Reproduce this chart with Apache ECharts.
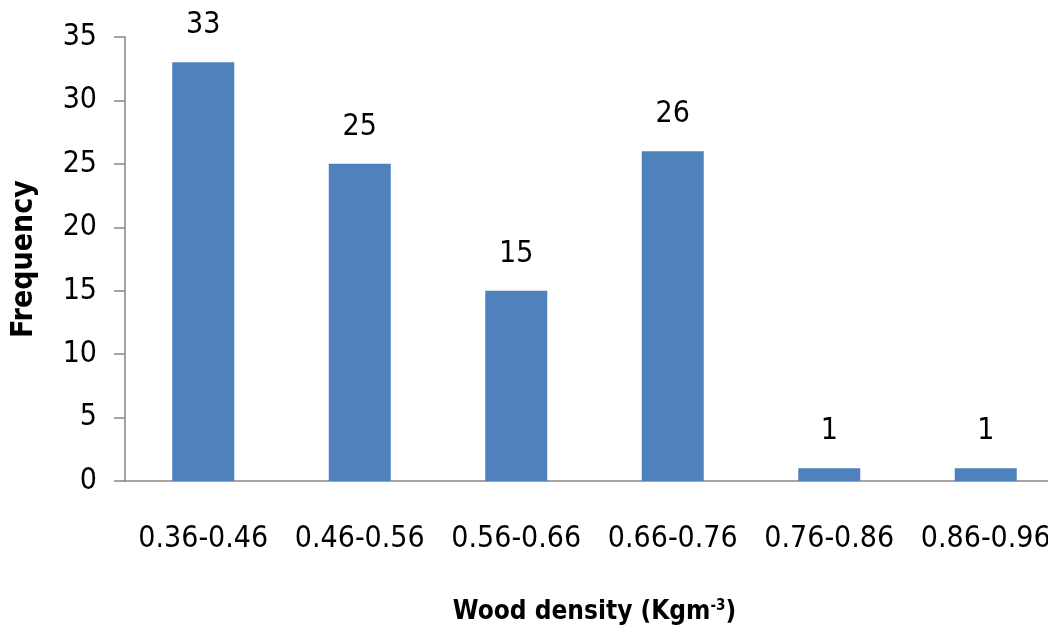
<!DOCTYPE html>
<html>
<head>
<meta charset="utf-8">
<script src="https://cdn.jsdelivr.net/npm/echarts@6/dist/echarts.min.js"></script>
<style>
  html, body { margin: 0; padding: 0; background: #fff; }
  #chart { width: 1048px; height: 633px; }
</style>
</head>
<body>
<div id="chart"></div>
<script>
// Wood density classes and how many samples fall in each
const densityClasses = ['0.36-0.46', '0.46-0.56', '0.56-0.66', '0.66-0.76', '0.76-0.86', '0.86-0.96'];
const frequencies = [33, 25, 15, 26, 1, 1];
const yTicks = { min: 0, max: 35, interval: 5 };

const FONT = '"Liberation Sans Narrow", "DejaVu Sans Condensed", sans-serif';
const AXIS_GREY = '#868686';

const chart = echarts.init(document.getElementById('chart'), null, { renderer: 'canvas' });
chart.setOption({
  animation: false,
  grid: { left: 125, top: 37, bottom: 152, width: 939, containLabel: false, outerBoundsMode: 'none' },
  xAxis: {
    type: 'category',
    data: densityClasses,
    name: '{n|Wood density (Kgm}{s|-3}{n|)}',
    nameLocation: 'middle',
    nameGap: 118,
    nameTextStyle: {
      rich: {
        n: { fontFamily: FONT, fontWeight: 'bold', fontSize: 26, color: '#000' },
        s: { fontFamily: FONT, fontWeight: 'bold', fontSize: 15, color: '#000', verticalAlign: 'top', padding: [0, 0, 12, 0] }
      }
    },
    axisLine: { lineStyle: { color: AXIS_GREY, width: 1.5 } },
    axisTick: { show: false },
    axisLabel: { interval: 0, fontFamily: FONT, fontSize: 30, color: '#000', margin: 43 },
    splitLine: { show: false }
  },
  yAxis: {
    type: 'value',
    min: yTicks.min,
    max: yTicks.max,
    interval: yTicks.interval,
    name: 'Frequency',
    nameLocation: 'middle',
    nameGap: 86,
    nameTextStyle: { fontFamily: FONT, fontWeight: 'bold', fontSize: 30, color: '#000' },
    axisLine: { show: true, lineStyle: { color: AXIS_GREY, width: 1.5 } },
    axisTick: { show: true, length: 11, lineStyle: { color: AXIS_GREY, width: 1.5 } },
    axisLabel: { fontFamily: FONT, fontSize: 30, color: '#000', margin: 28 },
    splitLine: { show: false }
  },
  series: [{
    type: 'bar',
    data: frequencies,
    barWidth: 62,
    itemStyle: { color: '#4f81bd' },
    label: {
      show: true,
      position: 'top',
      distance: 22,
      fontFamily: FONT,
      fontSize: 30,
      color: '#000'
    }
  }]
});
</script>
</body>
</html>
